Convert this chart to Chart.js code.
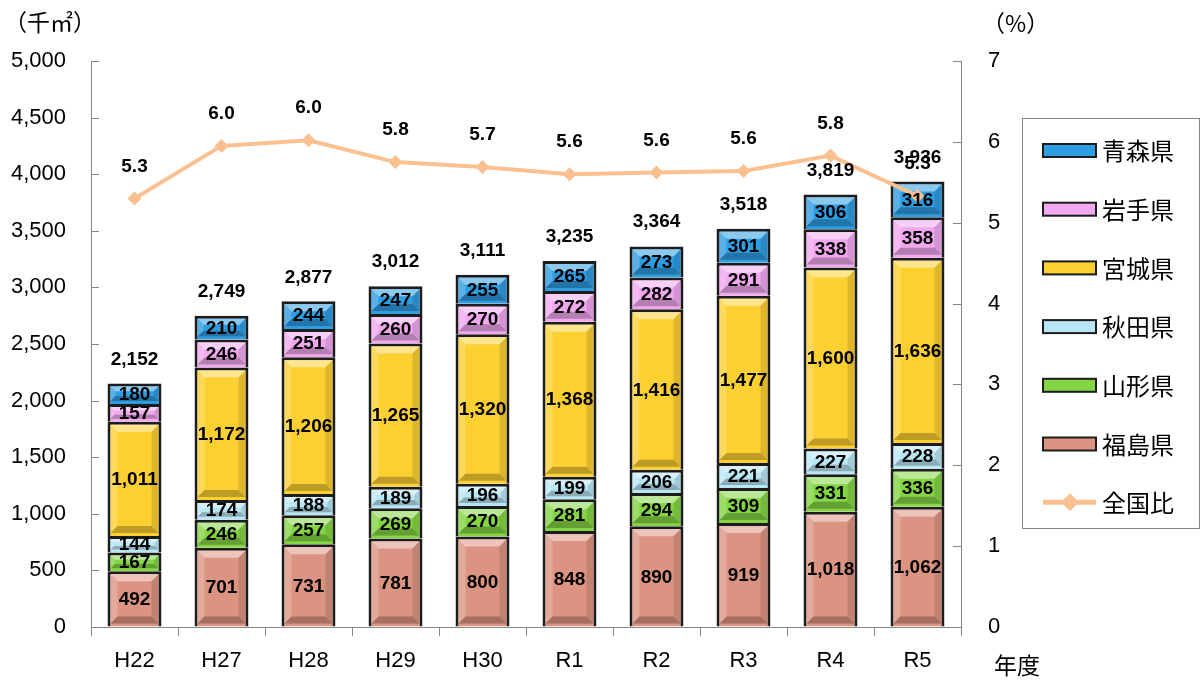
<!DOCTYPE html>
<html lang="ja">
<head>
<meta charset="UTF-8">
<title>東北6県</title>
<script src="https://cdn.jsdelivr.net/npm/chart.js"></script>
<style>
  html, body { margin: 0; padding: 0; background: #fff; }
</style>
</head>
<body>
<canvas id="chart" width="1203" height="686"></canvas>
<script>
const years = ["H22", "H27", "H28", "H29", "H30", "R1", "R2", "R3", "R4", "R5"]

// stack order: bottom first
const fukushima = [492, 701, 731, 781, 800, 848, 890, 919, 1018, 1062]
const yamagata = [167, 246, 257, 269, 270, 281, 294, 309, 331, 336]
const akita = [144, 174, 188, 189, 196, 199, 206, 221, 227, 228]
const miyagi = [1011, 1172, 1206, 1265, 1320, 1368, 1416, 1477, 1600, 1636]
const iwate = [157, 246, 251, 260, 270, 272, 282, 291, 338, 358]
const aomori = [180, 210, 244, 247, 255, 265, 273, 301, 306, 316]
const totals = [2152, 2749, 2877, 3012, 3111, 3235, 3364, 3518, 3819, 3936]
const shareOfNation = [5.3, 5.95, 6.02, 5.75, 5.69, 5.6, 5.62, 5.64, 5.83, 5.33]

const FONT = "'Liberation Sans', 'Noto Sans CJK JP', sans-serif"
const JP = "'Noto Sans CJK JP', sans-serif"
const AXIS = "#868686"
const EDGE = "#1c1c1c"

const fmt = (v) => v.toLocaleString("en-US")

function barSet(label, data, color) {
  return {
    type: "bar",
    label,
    data,
    backgroundColor: color,
    borderColor: EDGE,
    borderWidth: 3,
    yAxisID: "y",
    stack: "pref",
    order: 1,
    barPercentage: 0.62,
    categoryPercentage: 1,
  }
}

// light top / dark bottom edges like the bevelled bars of the original
function bevel(ctx, l, t, w, h) {
  const ins = 3
  l += ins; t += ins; w -= ins * 2; h -= ins * 2
  if (w <= 0 || h <= 0) return
  const r = l + w, b = t + h
  const s = Math.min(7, h / 3, w / 3)
  const poly = (pts, fill) => {
    ctx.beginPath()
    ctx.moveTo(pts[0][0], pts[0][1])
    for (let i = 1; i < pts.length; i++) ctx.lineTo(pts[i][0], pts[i][1])
    ctx.closePath()
    ctx.fillStyle = fill
    ctx.fill()
  }
  poly([[l, t], [r, t], [r - s, t + s], [l + s, t + s]], "rgba(255,255,255,0.45)")
  poly([[l, t], [l + s, t + s], [l + s, b - s], [l, b]], "rgba(255,255,255,0.2)")
  poly([[r, t], [r - s, t + s], [r - s, b - s], [r, b]], "rgba(0,0,0,0.12)")
  poly([[l, b], [l + s, b - s], [r - s, b - s], [r, b]], "rgba(0,0,0,0.25)")
}

const extras = {
  id: "extras",
  afterDatasetDraw(chart, args) {
    const meta = args.meta
    if (meta.type !== "bar") return
    const ctx = chart.ctx
    ctx.save()
    meta.data.forEach((bar) => {
      const p = bar.getProps(["x", "y", "base", "width"], true)
      bevel(ctx, p.x - p.width / 2, Math.min(p.y, p.base), p.width, Math.abs(p.base - p.y))
    })
    ctx.restore()
  },
  afterDatasetsDraw(chart) {
    const ctx = chart.ctx
    const { y, y1 } = chart.scales
    const area = chart.chartArea
    ctx.save()
    ctx.textAlign = "center"
    ctx.textBaseline = "middle"
    ctx.fillStyle = "#000"

    // segment values
    ctx.font = "bold 19px " + FONT
    chart.data.datasets.forEach((ds, di) => {
      if (ds.type !== "bar") return
      chart.getDatasetMeta(di).data.forEach((bar, i) => {
        const p = bar.getProps(["x", "y", "base"], true)
        ctx.fillText(fmt(ds.data[i]), p.x, (p.y + p.base) / 2 + 1)
      })
    })

    // totals above bars
    const firstMeta = chart.getDatasetMeta(0)
    totals.forEach((t, i) => {
      const x = firstMeta.data[i].x
      ctx.fillText(fmt(t), x, y.getPixelForValue(t) - 24)
    })

    // line labels
    const lineIdx = chart.data.datasets.findIndex((d) => d.type === "line")
    chart.getDatasetMeta(lineIdx).data.forEach((pt, i) => {
      ctx.fillText(shareOfNation[i].toFixed(1), pt.x, pt.y - 32)
    })

    // inside tick marks on the value axes
    ctx.strokeStyle = AXIS
    ctx.lineWidth = 1
    y.ticks.forEach((tk) => {
      const py = Math.round(y.getPixelForValue(tk.value)) + 0.5
      ctx.beginPath()
      ctx.moveTo(area.left, py)
      ctx.lineTo(area.left + 8, py)
      ctx.stroke()
    })
    y1.ticks.forEach((tk) => {
      const py = Math.round(y1.getPixelForValue(tk.value)) + 0.5
      ctx.beginPath()
      ctx.moveTo(area.right, py)
      ctx.lineTo(area.right - 8, py)
      ctx.stroke()
    })
    ctx.restore()
  },
  afterDraw(chart) {
    const ctx = chart.ctx
    ctx.save()
    ctx.fillStyle = "#000"
    ctx.textBaseline = "middle"
    ctx.font = "23px " + JP
    ctx.textAlign = "left"
    ctx.fillText("（千㎡）", 4, 22)
    ctx.fillText("（%）", 982, 23)
    ctx.fillText("年度", 994, 665)

    // legend
    ctx.strokeStyle = AXIS
    ctx.lineWidth = 1
    ctx.strokeRect(1022.5, 118.5, 177, 410)
    const bars = chart.data.datasets.filter((d) => d.type === "bar").reverse()
    const line = chart.data.datasets.find((d) => d.type === "line")
    const items = [...bars, line]
    ctx.font = "24px " + JP
    items.forEach((ds, i) => {
      const cy = 150 + i * 58.7
      if (ds.type === "bar") {
        ctx.fillStyle = ds.backgroundColor
        ctx.fillRect(1043, cy - 6, 53, 13)
        ctx.strokeStyle = EDGE
        ctx.lineWidth = 2
        ctx.strokeRect(1043, cy - 6, 53, 13)
      } else {
        ctx.strokeStyle = ds.borderColor
        ctx.lineWidth = 5
        ctx.beginPath()
        ctx.moveTo(1043, cy)
        ctx.lineTo(1096, cy)
        ctx.stroke()
        ctx.fillStyle = ds.borderColor
        ctx.beginPath()
        ctx.moveTo(1070, cy - 9)
        ctx.lineTo(1079, cy)
        ctx.lineTo(1070, cy + 9)
        ctx.lineTo(1061, cy)
        ctx.closePath()
        ctx.fill()
      }
      ctx.fillStyle = "#000"
      ctx.fillText(ds.label, 1102, cy + 1)
    })
    ctx.restore()
  },
}

const tickFont = { family: FONT, size: 22 }

new Chart(document.getElementById("chart"), {
  data: {
    labels: years,
    datasets: [
      barSet("福島県", fukushima, "#dc9482"),
      barSet("山形県", yamagata, "#84d544"),
      barSet("秋田県", akita, "#b9e6f5"),
      barSet("宮城県", miyagi, "#fdd032"),
      barSet("岩手県", iwate, "#f2a8ef"),
      barSet("青森県", aomori, "#2f9de2"),
      {
        type: "line",
        label: "全国比",
        data: shareOfNation,
        borderColor: "#fac090",
        backgroundColor: "#fac090",
        borderWidth: 4,
        pointStyle: "rectRot",
        pointRadius: 7,
        pointBorderWidth: 0,
        yAxisID: "y1",
        order: 0,
      },
    ],
  },
  options: {
    responsive: false,
    animation: false,
    devicePixelRatio: 1,
    layout: { padding: { top: 61, right: 192, bottom: 0, left: 0 } },
    plugins: { legend: { display: false }, tooltip: { enabled: false } },
    scales: {
      x: {
        stacked: true,
        offset: true,
        grid: { offset: true, drawOnChartArea: false, tickLength: 9, color: AXIS },
        border: { color: AXIS },
        ticks: { font: tickFont, color: "#000", padding: 12 },
        afterFit(s) { s.height = 59 },
      },
      y: {
        stacked: true,
        min: 0,
        max: 5000,
        ticks: { stepSize: 500, callback: (v) => fmt(v), font: tickFont, color: "#000", padding: 25 },
        grid: { drawOnChartArea: false, drawTicks: false },
        border: { color: AXIS },
        afterFit(s) { s.width = 91 },
      },
      y1: {
        position: "right",
        min: 0,
        max: 7,
        ticks: { stepSize: 1, font: tickFont, color: "#000", padding: 27 },
        grid: { drawOnChartArea: false, drawTicks: false },
        border: { color: AXIS },
        afterFit(s) { s.width = 50 },
      },
    },
  },
  plugins: [extras],
})
</script>
</body>
</html>
